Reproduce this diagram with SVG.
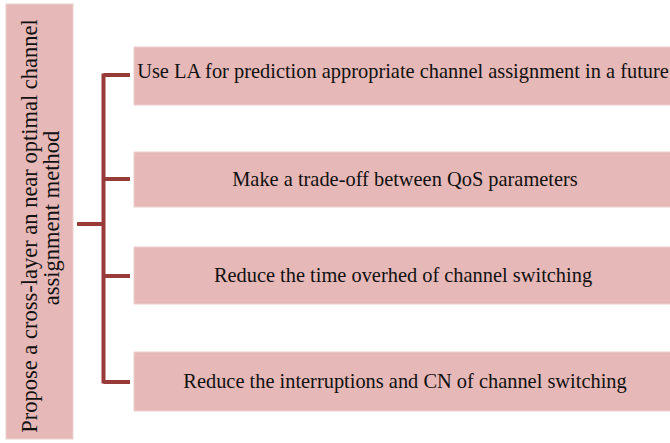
<svg xmlns="http://www.w3.org/2000/svg" width="670" height="443" viewBox="0 0 670 443">
<style>
.box{fill:#e6b8b7;stroke:#eed0cf;stroke-width:1}
.t{font-family:"Liberation Serif","Times New Roman",serif;font-size:20.4px;fill:#111;text-anchor:middle}
.vt{font-family:"Liberation Serif","Times New Roman",serif;font-size:22.5px;fill:#111;text-anchor:middle}
.c{stroke:#983a38;stroke-width:4;fill:none}
</style>
<rect width="670" height="443" fill="#fff"/>
<g id="root">
<rect class="box" x="6" y="4" width="67" height="435"/>
<text class="vt" transform="translate(36.5,226) rotate(-90)">Propose a cross-layer an near optimal channel</text>
<text class="vt" transform="translate(58.5,218) rotate(-90)">assignment method</text>
</g>
<g id="n1">
<rect class="box" x="134" y="47" width="540" height="58"/>
<text class="t" x="403" y="78">Use LA for prediction appropriate channel assignment in a future</text>
</g>
<g id="n2">
<rect class="box" x="134" y="152" width="540" height="55"/>
<text class="t" x="405" y="185.7">Make a trade-off between QoS parameters</text>
</g>
<g id="n3">
<rect class="box" x="134" y="247" width="540" height="57"/>
<text class="t" x="403" y="281.7">Reduce the time overhed of channel switching</text>
</g>
<g id="n4">
<rect class="box" x="134" y="352" width="540" height="59"/>
<text class="t" x="405" y="387.7">Reduce the interruptions and CN of channel switching</text>
</g>
<g id="connectors">
<path class="c" d="M103.5 73.5V383.5"/>
<path class="c" d="M77 224H103.5"/>
<path class="c" stroke-width="3.5" d="M103.5 75H130"/>
<path class="c" stroke-width="3.5" d="M103.5 179H130"/>
<path class="c" stroke-width="3.5" d="M103.5 276H130"/>
<path class="c" stroke-width="3.5" d="M103.5 382H130"/>
</g>
</svg>
